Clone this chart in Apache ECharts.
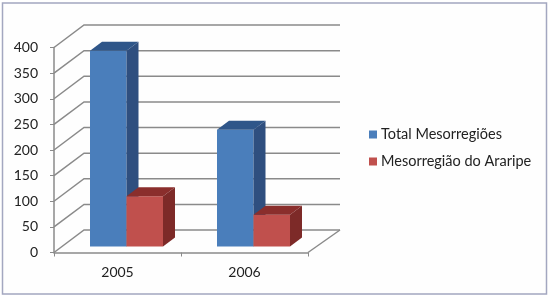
<!DOCTYPE html>
<html><head><meta charset="utf-8">
<script src="https://cdn.jsdelivr.net/npm/echarts@6/dist/echarts.min.js"></script>
<style>html,body{margin:0;padding:0;background:#fff}#c{width:550px;height:297px}</style>
</head><body><div id="c"></div>
<script>
var categories = ['2005', '2006'];
var totalValues = [382, 228];
var araripeValues = [98, 62];
var tickValues = [0, 50, 100, 150, 200, 250, 300, 350, 400];

var FONT = 'Lato, "Open Sans", sans-serif';
var WALL = {dx: 30, dy: -22.5};
var BAR = {shiftX: 9, shiftY: -6, width: 36.5, dx: 12, dy: -9};
var GRID = {left: 54, right: 242, top: 47.5, bottom: 44.5};

function poly(points, fill) {
  return {type: 'polygon', shape: {points: points}, style: {fill: fill, stroke: null}};
}
function barRender(side, front, top, dark) {
  return function (params, api) {
    var t = api.coord([api.value(0), api.value(1)]);
    var b = api.coord([api.value(0), 0]);
    var x0 = t[0] + BAR.shiftX + side * BAR.width;
    var x1 = x0 + BAR.width;
    var yT = t[1] + BAR.shiftY, yB = b[1] + BAR.shiftY;
    return {type: 'group', children: [
      poly([[x0, yB], [x1, yB], [x1, yT], [x0, yT]], front),
      poly([[x0, yT], [x1, yT], [x1 + BAR.dx, yT + BAR.dy], [x0 + BAR.dx, yT + BAR.dy]], top),
      poly([[x1, yB], [x1 + BAR.dx, yB + BAR.dy], [x1 + BAR.dx, yT + BAR.dy], [x1, yT]], dark)
    ]};
  };
}
function wallRender(params, api) {
  var v = api.value(1);
  var size = api.size([1, 0]);
  var c = api.coord([0, v]);
  var x0 = c[0] - size[0] / 2;
  var x1 = x0 + size[0] * 2;
  var st = {stroke: '#8a8a8a', lineWidth: 1.5, fill: null};
  var kids = [
    {type: 'polyline', shape: {points: [[x0, c[1]], [x0 + WALL.dx, c[1] + WALL.dy], [x1 + WALL.dx + 2, c[1] + WALL.dy]]}, style: st}
  ];
  if (v === 0) {
    kids.push({type: 'line', shape: {x1: x1, y1: c[1], x2: x1 + WALL.dx + 2, y2: c[1] + WALL.dy}, style: st});
  }
  return {type: 'group', children: kids};
}

var chart = echarts.init(document.getElementById('c'), null, {renderer: 'canvas'});
chart.setOption({
  animation: false,
  backgroundColor: '#ffffff',
  graphic: [{
    type: 'rect', z: 0, silent: true,
    shape: {x: 2.5, y: 3, width: 544, height: 291},
    style: {fill: '#fefefe', stroke: '#a3a7c0', lineWidth: 1.5}
  }],
  grid: GRID,
  legend: {
    orient: 'vertical', left: 364, top: 122, itemWidth: 8, itemHeight: 8, itemGap: 12,
    icon: 'rect',
    data: ['Total Mesorregiões', 'Mesorregião do Araripe'],
    textStyle: {fontFamily: FONT, fontSize: 14.5, color: '#222', padding: [0, 0, 0, -1]}
  },
  xAxis: {
    type: 'category', data: categories,
    axisLine: {show: true, lineStyle: {color: '#8a8a8a', width: 1.5}},
    axisTick: {show: true, length: 4, alignWithLabel: false, lineStyle: {color: '#8a8a8a'}},
    axisLabel: {fontFamily: FONT, fontSize: 14, color: '#222', margin: 13}
  },
  yAxis: {
    type: 'value', min: 0, max: 400, interval: 50,
    splitLine: {show: false},
    axisLine: {show: true, lineStyle: {color: '#8a8a8a', width: 1.5}},
    axisTick: {show: true, length: 4, lineStyle: {color: '#8a8a8a'}},
    axisLabel: {fontFamily: FONT, fontSize: 14, color: '#222', margin: 16}
  },
  series: [
    {type: 'custom', name: 'walls', silent: true, z: 1, renderItem: wallRender,
     data: tickValues.map(function (v) { return [0, v]; }), encode: {x: 0, y: 1}, clip: false},
    {type: 'custom', name: 'Total Mesorregiões', z: 2, itemStyle: {color: '#4a7ebb'},
     renderItem: barRender(-1, '#4a7ebb', '#2f5689', '#2f4f7f'),
     data: totalValues.map(function (v, i) { return [i, v]; }), encode: {x: 0, y: 1}, clip: false},
    {type: 'custom', name: 'Mesorregião do Araripe', z: 3, itemStyle: {color: '#c0504d'},
     renderItem: barRender(0, '#c0504d', '#8a2e2c', '#7d2a28'),
     data: araripeValues.map(function (v, i) { return [i, v]; }), encode: {x: 0, y: 1}, clip: false}
  ]
});
</script></body></html>
